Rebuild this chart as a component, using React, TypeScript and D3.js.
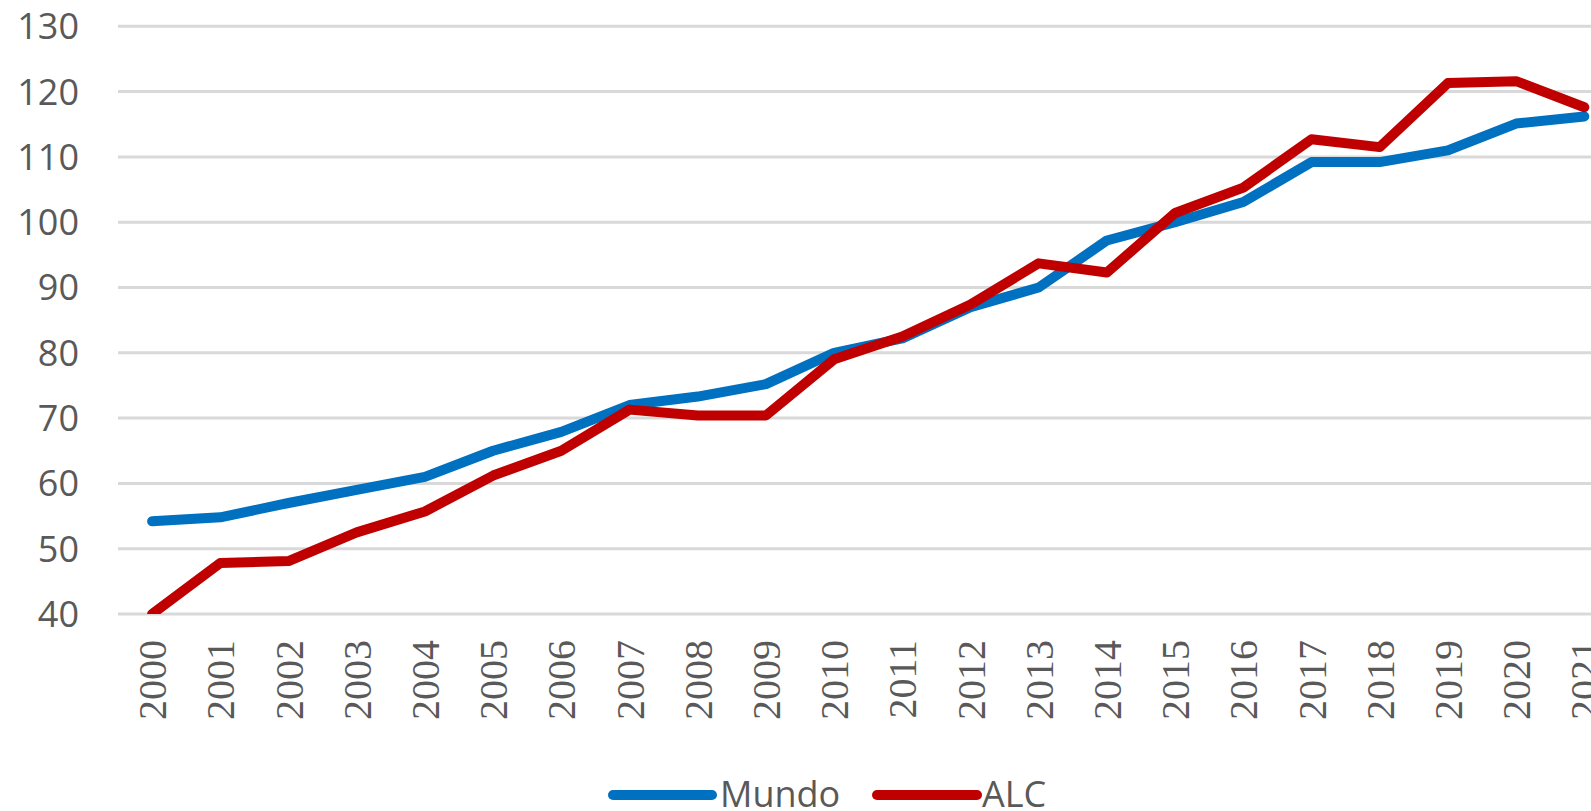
import React from "react";
import * as d3 from "d3";

const years = ["2000","2001","2002","2003","2004","2005","2006","2007","2008","2009","2010","2011","2012","2013","2014","2015","2016","2017","2018","2019","2020","2021"];
const mundo = [54.2,54.8,57,59,61,65,67.9,72,73.3,75.2,80,82.2,87,90,97.2,100,103.1,109.2,109.2,111,115.1,116.2];
const alc = [40,47.8,48.1,52.5,55.7,61.2,65,71.3,70.4,70.4,79,82.5,87.4,93.7,92.3,101.4,105.3,112.7,111.5,121.3,121.6,117.6];
const yTicks = [40,50,60,70,80,90,100,110,120,130];

const W = 1591, H = 811;
const left = 118, step = 68.2;
const top = 26.3, bottom = 614;

export default function App() {
  const x = d3.scaleLinear().domain([0, 1]).range([left + step / 2, left + step * 1.5]);
  const y = d3.scaleLinear().domain([40, 130]).range([bottom, top]);
  const line = d3.line<number>().x((_, i) => x(i)).y(d => y(d));
  return (
    <svg width={W} height={H} style={{ position: "absolute", left: 0, top: 0, background: "#fff" }}>
      <defs>
        <clipPath id="plot"><rect x={0} y={0} width={W} height={bottom} /></clipPath>
      </defs>
      {yTicks.map(t => (
        <g key={t}>
          <line x1={left} x2={W} y1={y(t)} y2={y(t)} stroke="#d9d9d9" strokeWidth={3} />
          <text x={79} y={y(t)} dy="0.36em" textAnchor="end" fontFamily="'Open Sans', sans-serif" fontSize={36} fill="#595959">{t}</text>
        </g>
      ))}
      {years.map((yr, i) => (
        <text key={yr} transform={`translate(${x(i)},640) rotate(-90)`} dy="0.35em" textAnchor="end" fontFamily="'Liberation Serif', serif" fontSize={40} fill="#595959">{yr}</text>
      ))}
      <g clipPath="url(#plot)">
        <path d={line(mundo) || ""} fill="none" stroke="#0070C0" strokeWidth={10} strokeLinejoin="round" strokeLinecap="round" />
        <path d={line(alc) || ""} fill="none" stroke="#C00000" strokeWidth={10} strokeLinejoin="round" strokeLinecap="round" />
      </g>
      <line x1={613} x2={712} y1={795} y2={795} stroke="#0070C0" strokeWidth={10} strokeLinecap="round" />
      <text x={720} y={807} fontFamily="'Open Sans', sans-serif" fontSize={36} fill="#595959">Mundo</text>
      <line x1={877} x2={977} y1={795} y2={795} stroke="#C00000" strokeWidth={10} strokeLinecap="round" />
      <text x={982} y={807} fontFamily="'Open Sans', sans-serif" fontSize={36} fill="#595959">ALC</text>
    </svg>
  );
}
